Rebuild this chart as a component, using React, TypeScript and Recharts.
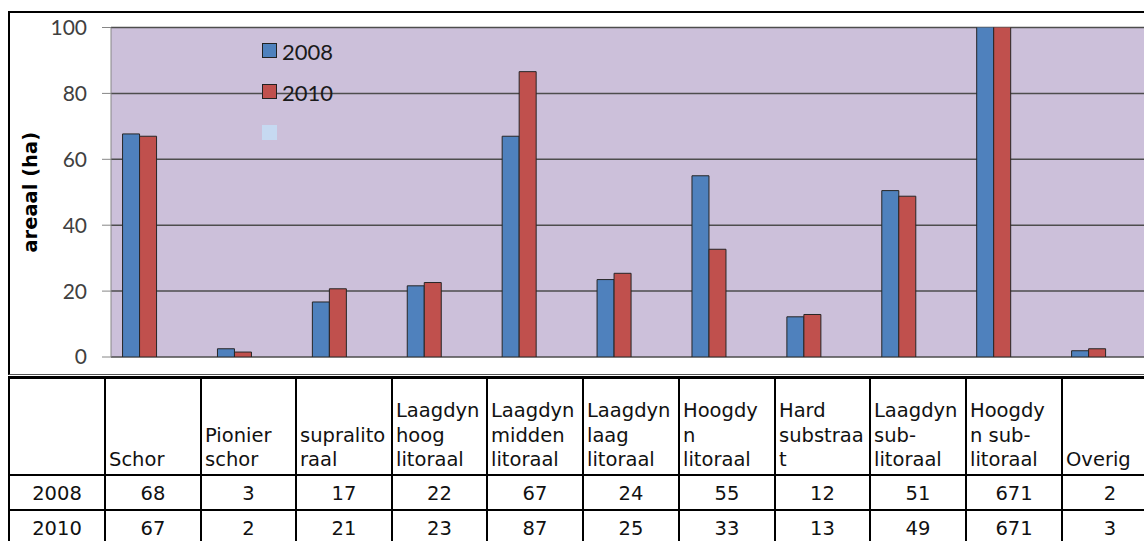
import React from 'react'
import { BarChart, Bar, XAxis, YAxis, CartesianGrid, Legend } from 'recharts'

// habitat types (header text as wrapped in the data table)
const categories = [
  'Schor',
  'Pionier\nschor',
  'supralito\nraal',
  'Laagdyn\nhoog\nlitoraal',
  'Laagdyn\nmidden\nlitoraal',
  'Laagdyn\nlaag\nlitoraal',
  'Hoogdy\nn\nlitoraal',
  'Hard\nsubstraa\nt',
  'Laagdyn\nsub-\nlitoraal',
  'Hoogdy\nn sub-\nlitoraal',
  'Overig',
]

// areaal in ha, table shows them rounded
const values2008 = [67.7, 2.5, 16.7, 21.6, 67, 23.5, 55, 12.2, 50.5, 671, 1.9]
const values2010 = [67, 1.5, 20.7, 22.6, 86.6, 25.4, 32.7, 12.9, 48.8, 671, 2.5]

const yTicks = [0, 20, 40, 60, 80, 100]

const legendItems = [
  { label: '2008', color: '#4F81BD', border: true },
  { label: '2010', color: '#C0504D', border: true },
  { label: '', color: '#C6D9F1', border: false },
]

const colWidths = [96, 96, 95, 96, 95, 96, 96, 96, 95, 96, 96, 96]

const data = categories.map((c, i) => ({
  idx: i,
  name: c,
  v2008: values2008[i],
  v2010: values2010[i],
}))

const YLabel = (props: any) => {
  const { viewBox } = props
  const cx = viewBox.x + 30
  const cy = viewBox.y + viewBox.height / 2
  return (
    <text
      x={cx}
      y={cy}
      transform={`rotate(-90, ${cx}, ${cy})`}
      textAnchor="middle"
      dominantBaseline="central"
      fontFamily="DejaVu Sans"
      fontWeight="bold"
      fontSize={19.5}
      fill="#000"
    >
      areaal (ha)
    </text>
  )
}

const LegendBox = () => (
  <div style={{ fontFamily: 'Lato', fontSize: 22, color: '#1a1a1a' }}>
    {legendItems.map((it, i) => (
      <div key={i} style={{ display: 'flex', alignItems: 'flex-start', height: 41 }}>
        <span
          style={{
            display: 'inline-block',
            flexShrink: 0,
            width: 15,
            height: 15,
            boxSizing: 'border-box',
            background: it.color,
            border: it.border ? '1px solid #222' : 'none',
            marginRight: 5,
          }}
        />
        <span style={{ lineHeight: '15px', position: 'relative', top: 1 }}>{it.label}</span>
      </div>
    ))}
  </div>
)

const cellBorder = '2px solid #000'

export default function App() {
  return (
    <div style={{ position: 'relative', width: 1144, height: 541, overflow: 'hidden', background: '#fff' }}>
      <style>{'body{margin:0}'}</style>
      <div
        style={{
          position: 'absolute',
          left: 8,
          top: 11,
          width: 1200,
          height: 361,
          borderTop: '2px solid #000',
          borderLeft: '2px solid #000',
          borderBottom: '1px solid #555',
        }}
      />
      <div style={{ position: 'absolute', left: 0, top: 0 }}>
        <BarChart
          width={1144}
          height={373}
          data={data}
          barGap={0}
          margin={{ top: 27.5, right: 0, bottom: 16, left: 0 }}
        >
          <CartesianGrid vertical={false} fill="#CCC0DA" fillOpacity={1} stroke="#4d4d4d" strokeWidth={1.5} />
          <XAxis type="number" dataKey="idx" domain={[-0.3056, 10.579]} allowDataOverflow hide />
          <YAxis
            domain={[0, 100]}
            ticks={yTicks}
            allowDataOverflow
            width={111}
            tickSize={9}
            tickMargin={15}
            axisLine={{ stroke: '#868686' }}
            tickLine={{ stroke: '#868686' }}
            tick={{ fill: '#404040', fontSize: 21, fontFamily: 'Lato' }}
            label={YLabel}
          />
          <Legend
            layout="vertical"
            align="center"
            verticalAlign="middle"
            content={<LegendBox />}
            wrapperStyle={{ left: 262, top: 43, width: 'auto', height: 'auto' }}
          />
          <Bar dataKey="v2008" fill="#4F81BD" stroke="#262626" strokeWidth={1} barSize={17} isAnimationActive={false} />
          <Bar dataKey="v2010" fill="#C0504D" stroke="#262626" strokeWidth={1} barSize={17} isAnimationActive={false} />
        </BarChart>
      </div>
      <table
        style={{
          position: 'absolute',
          left: 8,
          top: 376,
          borderCollapse: 'collapse',
          tableLayout: 'fixed',
          width: colWidths.reduce((a, b) => a + b, 0),
          fontFamily: '"DejaVu Sans"',
          fontSize: 19.5,
          color: '#111',
        }}
      >
        <colgroup>
          {colWidths.map((w, i) => (
            <col key={i} style={{ width: w }} />
          ))}
        </colgroup>
        <tbody>
          <tr style={{ height: 97 }}>
            <td style={{ border: cellBorder, borderTop: '3px solid #000' }} />
            {categories.map((c, i) => (
              <td
                key={i}
                style={{
                  border: cellBorder,
                  borderTop: '3px solid #000',
                  verticalAlign: 'bottom',
                  textAlign: 'left',
                  whiteSpace: 'pre-line',
                  lineHeight: '24.5px',
                  padding: '0 0 1px 3px',
                  overflow: 'hidden',
                }}
              >
                {c}
              </td>
            ))}
          </tr>
          {[
            { year: '2008', vals: values2008 },
            { year: '2010', vals: values2010 },
          ].map((row) => (
            <tr key={row.year} style={{ height: 35 }}>
              <td style={{ border: cellBorder, textAlign: 'center', padding: '3px 0 0 0' }}>{row.year}</td>
              {row.vals.map((v, i) => (
                <td key={i} style={{ border: cellBorder, textAlign: 'center', padding: '3px 0 0 0' }}>
                  {Math.round(v)}
                </td>
              ))}
            </tr>
          ))}
        </tbody>
      </table>
    </div>
  )
}
